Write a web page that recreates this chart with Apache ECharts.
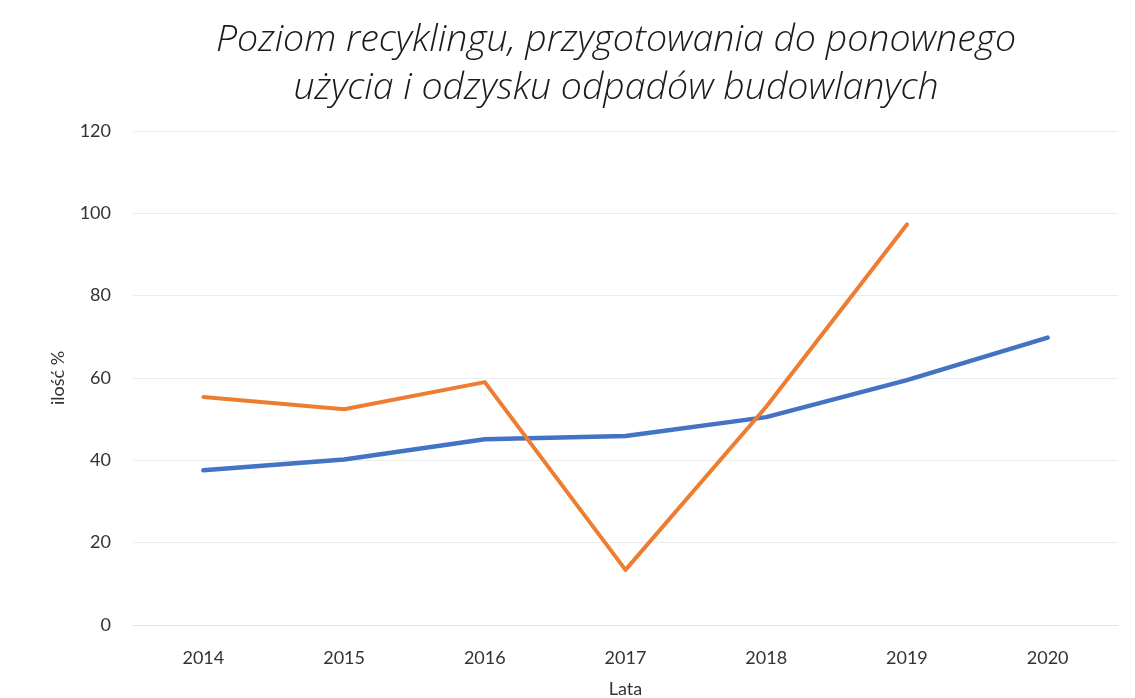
<!DOCTYPE html>
<html>
<head>
<meta charset="utf-8">
<script src="https://cdn.jsdelivr.net/npm/echarts@6/dist/echarts.min.js"></script>
<style>html,body{margin:0;padding:0;background:#fff}#c{width:1135px;height:698px}</style>
</head>
<body>
<div id="c"></div>
<script>
const categories = ['2014', '2015', '2016', '2017', '2018', '2019', '2020'];
const seriesBlue = [37.6, 40.2, 45.1, 45.9, 50.5, 59.5, 69.8];
const seriesOrange = [55.4, 52.4, 59.0, 13.4, 53.0, 97.3, null];
const yTicks = [0, 20, 40, 60, 80, 100, 120];
const titleLines = ['Poziom recyklingu, przygotowania do ponownego', 'użycia i odzysku odpadów budowlanych'];

const chart = echarts.init(document.getElementById('c'));
chart.setOption({
  backgroundColor: '#ffffff',
  animation: false,
  title: {
    text: titleLines.join('\n'),
    left: 611, top: 11, textAlign: 'center',
    textStyle: { fontFamily: 'Open Sans', fontStyle: 'italic', fontWeight: 300, fontSize: 37.5, lineHeight: 48, color: '#1a1a1a' }
  },
  grid: { left: 133, right: 17, top: 131, bottom: 73, outerBoundsMode: 'none', containLabel: false },
  xAxis: {
    type: 'category', data: categories, boundaryGap: true,
    name: 'Lata', nameLocation: 'middle', nameGap: 55,
    nameTextStyle: { fontFamily: 'Lato', fontSize: 18, color: '#333' },
    axisLine: { lineStyle: { color: '#e2e2e2', width: 1 } },
    axisTick: { show: false },
    axisLabel: { fontFamily: 'Lato', fontSize: 18, color: '#333', margin: 24 }
  },
  yAxis: {
    type: 'value', min: yTicks[0], max: yTicks[yTicks.length - 1], interval: 20,
    name: 'ilość %', nameLocation: 'middle', nameGap: 66, nameRotate: 90,
    nameTextStyle: { fontFamily: 'Lato', fontSize: 18, color: '#333' },
    axisLine: { show: false }, axisTick: { show: false },
    axisLabel: { fontFamily: 'Lato', fontSize: 18, color: '#333', margin: 22 },
    splitLine: { lineStyle: { color: '#ececec', width: 1 } }
  },
  series: [
    { type: 'line', data: seriesBlue, showSymbol: false, lineStyle: { color: '#4472C4', width: 4.5, cap: 'round', join: 'round' }, itemStyle: { color: '#4472C4' } },
    { type: 'line', data: seriesOrange, showSymbol: false, lineStyle: { color: '#ED7D31', width: 4, cap: 'round', join: 'round' }, itemStyle: { color: '#ED7D31' } }
  ]
});
</script>
</body>
</html>
